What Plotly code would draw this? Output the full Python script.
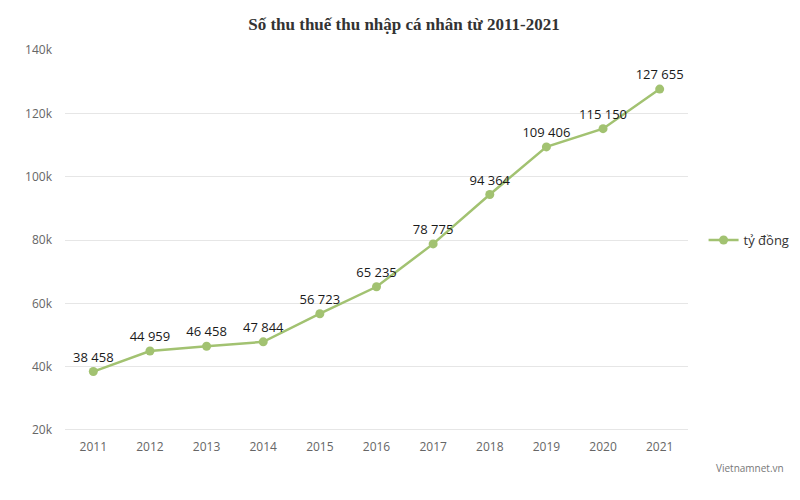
import plotly.graph_objects as go

years = ["2011", "2012", "2013", "2014", "2015", "2016", "2017", "2018", "2019", "2020", "2021"]
values = [38458, 44959, 46458, 47844, 56723, 65235, 78775, 94364, 109406, 115150, 127655]
series_name = "tỷ đồng"
title = "Số thu thuế thu nhập cá nhân từ 2011-2021"
tick_vals = [20000, 40000, 60000, 80000, 100000, 120000, 140000]
tick_text = ["20k", "40k", "60k", "80k", "100k", "120k", "140k"]

labels = [f"{v:,}".replace(",", " ") for v in values]

green = "#a2c271"

fig = go.Figure()
fig.add_trace(go.Scatter(
    x=years, y=values, mode="lines+markers+text", name=series_name,
    line=dict(color=green, width=2.5),
    marker=dict(color=green, size=9),
    text=labels, textposition="top center",
    textfont=dict(family="Open Sans, sans-serif", size=13, color="#1a1a1a"),
    cliponaxis=False, showlegend=True,
))

fig.update_layout(
    width=800, height=500,
    margin=dict(l=65, r=112, t=50, b=70, autoexpand=False),
    paper_bgcolor="white", plot_bgcolor="white",
    showlegend=True,
    title=dict(text=f"<b>{title}</b>", x=0.505, xanchor="center", y=0.952, yanchor="middle",
               font=dict(family="Liberation Serif, serif", size=17, color="#333333")),
    legend=dict(x=1.025, y=0.5, xanchor="left", yanchor="middle",
                font=dict(family="Open Sans, sans-serif", size=13, color="#333333")),
    xaxis=dict(type="category", range=[-0.5, 10.5], showgrid=False, showline=False, ticks="",
               ticklabelstandoff=8,
               tickfont=dict(family="Open Sans, sans-serif", size=12, color="#666666")),
    yaxis=dict(range=[20000, 140000], tickvals=tick_vals, ticktext=tick_text,
               showgrid=True, gridcolor="#e6e6e6", gridwidth=1, zeroline=False,
               ticks="", ticklabelstandoff=12,
               tickfont=dict(family="Open Sans, sans-serif", size=12, color="#666666")),
    annotations=[dict(text="Vietnamnet.vn", xref="paper", yref="paper", x=1.1, y=-0.1,
                      xanchor="center", yanchor="middle", showarrow=False,
                      font=dict(family="Open Sans, sans-serif", size=10, color="#777777"))],
)
fig.add_shape(type="line", xref="paper", yref="y", x0=0, x1=1, y0=20000, y1=20000,
              line=dict(color="#cccccc", width=1))

fig.write_html("out.html")
